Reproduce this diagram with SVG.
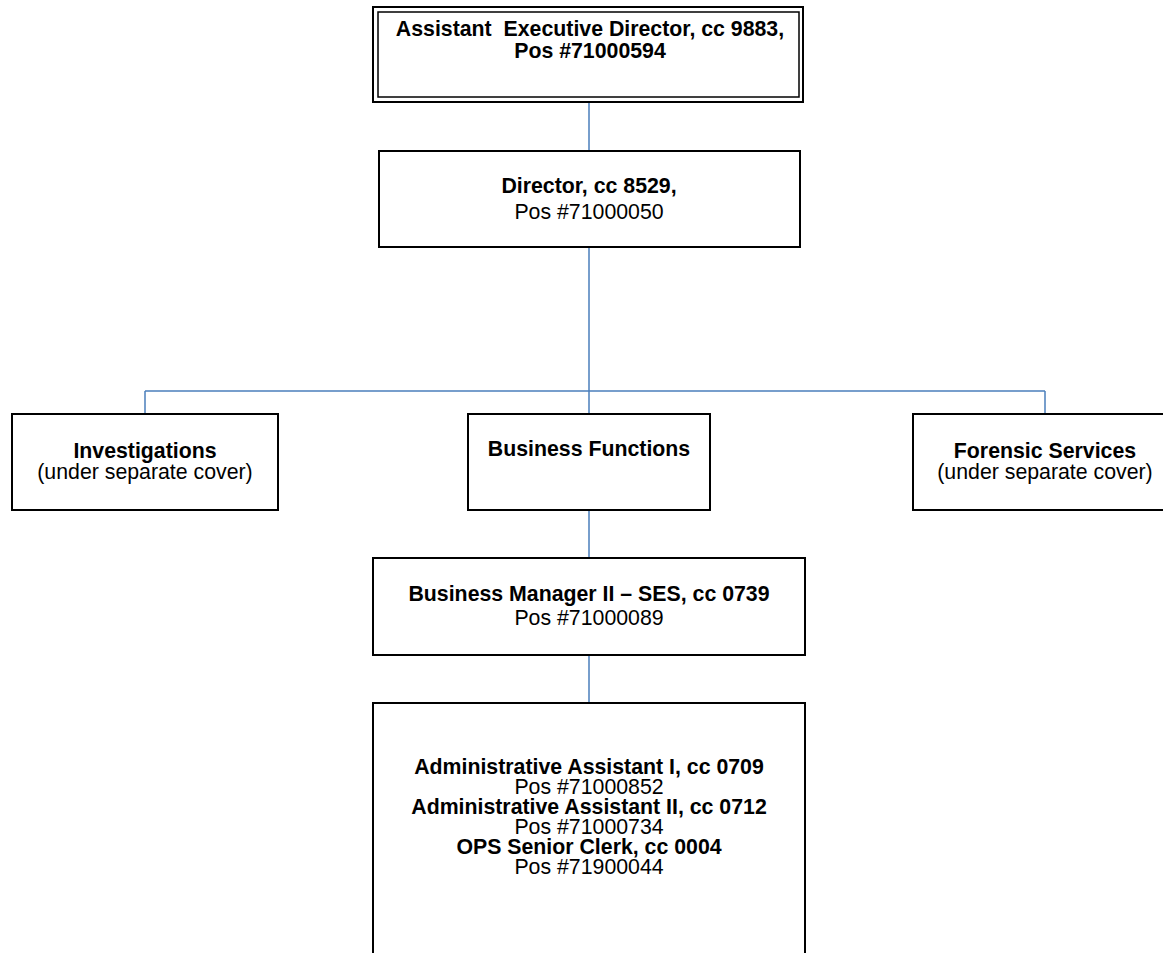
<svg xmlns="http://www.w3.org/2000/svg" width="1163" height="953" viewBox="0 0 1163 953">
<style>
.box{fill:#fff;stroke:#000;stroke-width:2}
.inner{fill:none;stroke:#000;stroke-width:1.5}
.b{font-family:"Liberation Sans",Arial,sans-serif;font-size:21.3px;font-weight:bold;fill:#000;text-anchor:middle;white-space:pre}
.r{font-family:"Liberation Sans",Arial,sans-serif;font-size:21.3px;fill:#000;text-anchor:middle}
.conn{stroke:#4a7ebb;stroke-width:1.5;fill:none}
</style>
<rect width="1163" height="953" fill="#fff"/>
<g id="connectors">
<line class="conn" x1="589" y1="102" x2="589" y2="151"/>
<line class="conn" x1="589" y1="247" x2="589" y2="414"/>
<line class="conn" x1="145" y1="391" x2="1045" y2="391"/>
<line class="conn" x1="145" y1="391" x2="145" y2="414"/>
<line class="conn" x1="1045" y1="391" x2="1045" y2="414"/>
<line class="conn" x1="589" y1="510" x2="589" y2="558"/>
<line class="conn" x1="589" y1="655" x2="589" y2="703"/>
</g>
<g id="aed">
<rect class="box" x="373" y="7" width="430" height="95" stroke-width="2.5"/>
<rect class="inner" x="378" y="12" width="421" height="85"/>
<text class="b" x="590" y="36" xml:space="preserve">Assistant  Executive Director, cc 9883,</text>
<text class="b" x="590" y="58">Pos #71000594</text>
</g>
<g id="director">
<rect class="box" x="379" y="151" width="421" height="96"/>
<text class="b" x="589" y="193">Director, cc 8529,</text>
<text class="r" x="589" y="219">Pos #71000050</text>
</g>
<g id="investigations">
<rect class="box" x="12" y="414" width="266" height="96"/>
<text class="b" x="145" y="458">Investigations</text>
<text class="r" x="145" y="479">(under separate cover)</text>
</g>
<g id="business-functions">
<rect class="box" x="468" y="414" width="242" height="96"/>
<text class="b" x="589" y="456">Business Functions</text>
</g>
<g id="forensic">
<rect class="box" x="913" y="414" width="266" height="96"/>
<text class="b" x="1045" y="458">Forensic Services</text>
<text class="r" x="1045" y="479">(under separate cover)</text>
</g>
<g id="business-manager">
<rect class="box" x="373" y="558" width="432" height="97"/>
<text class="b" x="589" y="601">Business Manager II – SES, cc 0739</text>
<text class="r" x="589" y="625">Pos #71000089</text>
</g>
<g id="admin">
<rect class="box" x="373" y="703" width="432" height="270"/>
<text class="b" x="589" y="774">Administrative Assistant I, cc 0709</text>
<text class="r" x="589" y="794">Pos #71000852</text>
<text class="b" x="589" y="814">Administrative Assistant II, cc 0712</text>
<text class="r" x="589" y="834">Pos #71000734</text>
<text class="b" x="589" y="854">OPS Senior Clerk, cc 0004</text>
<text class="r" x="589" y="874">Pos #71900044</text>
</g>
</svg>
